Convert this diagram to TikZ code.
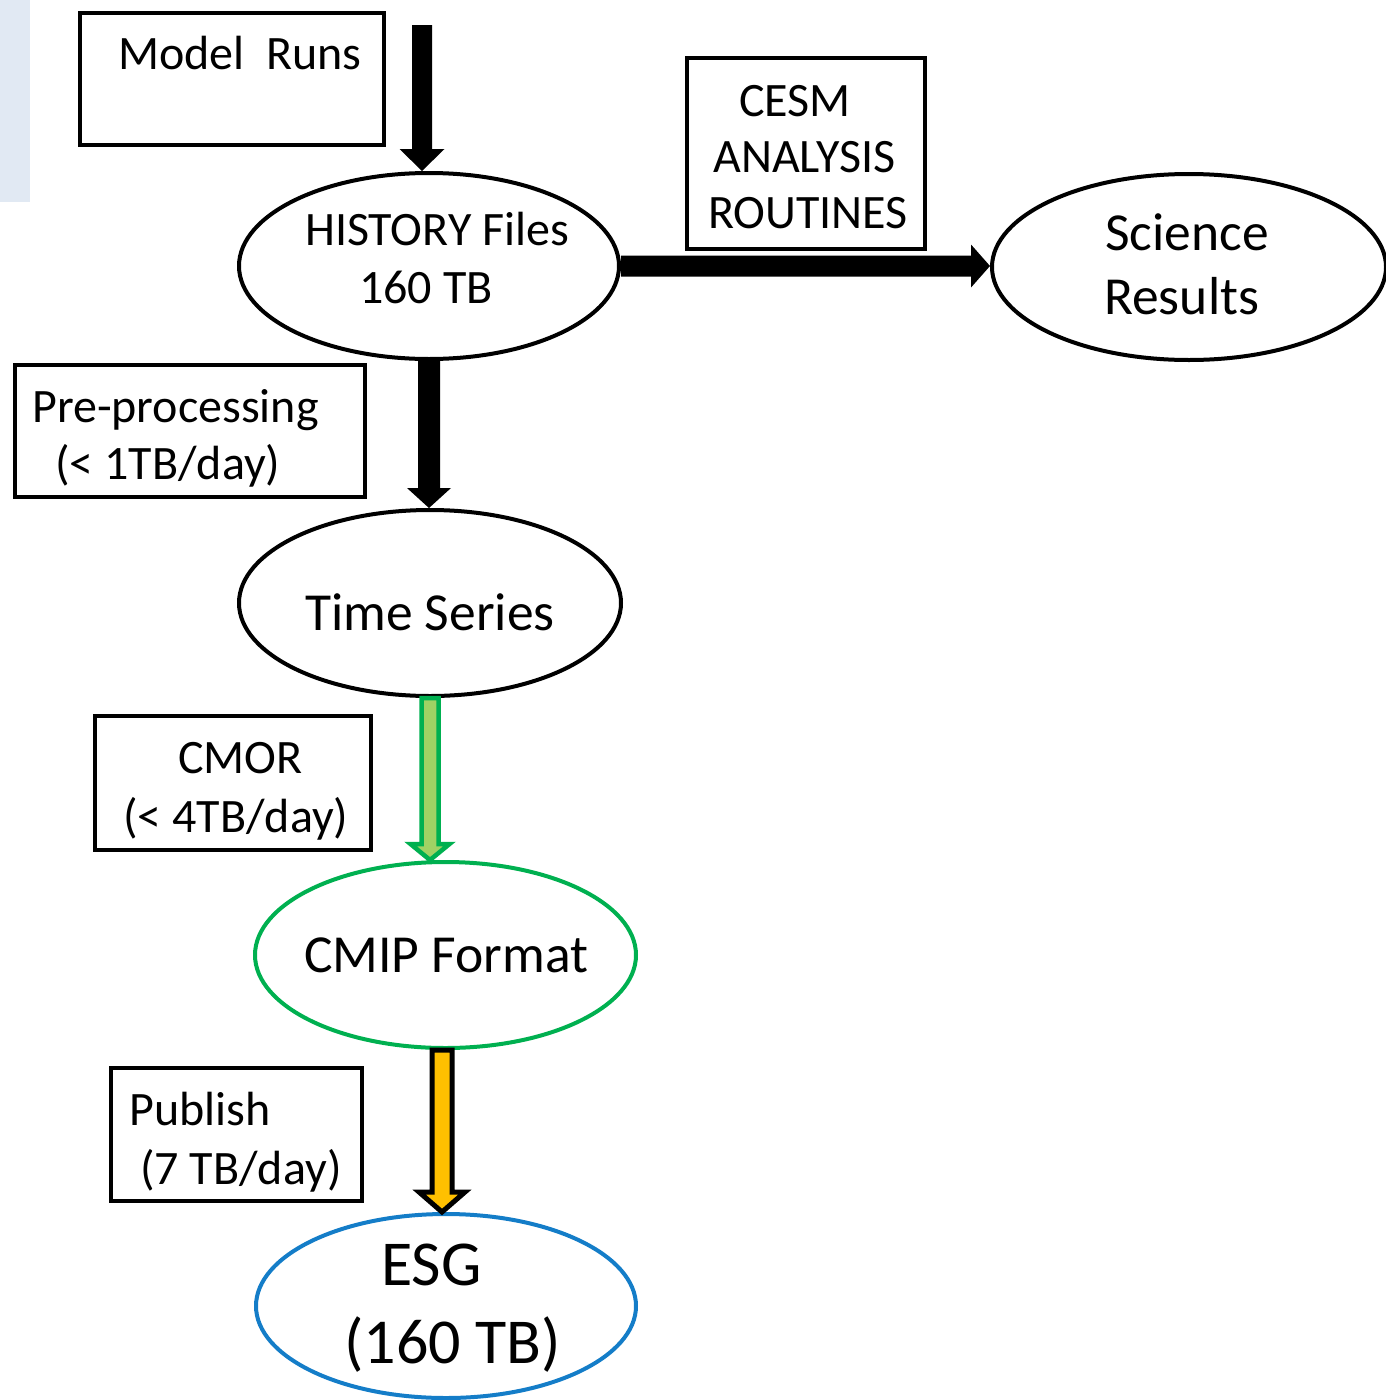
\documentclass[tikz,border=0pt]{standalone}
\usepackage{fontspec}
\setmainfont{Carlito}
\usetikzlibrary{shapes.geometric,calc}

\definecolor{sidebar}{RGB}{225,233,243}
\definecolor{cmipgreen}{RGB}{0,176,80}
\definecolor{lightgreen}{RGB}{160,210,100}
\definecolor{esgblue}{RGB}{20,125,200}
\definecolor{pubyellow}{RGB}{255,192,0}

% vertical block arrow: style, start, end, half shaft, half head, head length
\newcommand\vblockarrow[6]{%
  \path[#1] let \p1=(#2), \p2=(#3) in
    (\x1-#4,\y1) -- (\x1+#4,\y1) -- (\x1+#4,\y2+#6) -- (\x1+#5,\y2+#6)
    -- (\x1,\y2) -- (\x1-#5,\y2+#6) -- (\x1-#4,\y2+#6) -- cycle;}
% horizontal block arrow: style, start, end, half shaft, half head, head length
\newcommand\hblockarrow[6]{%
  \path[#1] let \p1=(#2), \p2=(#3) in
    (\x1,\y1+#4) -- (\x2-#6,\y1+#4) -- (\x2-#6,\y1+#5) -- (\x2,\y1)
    -- (\x2-#6,\y1-#5) -- (\x2-#6,\y1-#4) -- (\x1,\y1-#4) -- cycle;}

\tikzset{
  box/.style={draw=black, line width=4pt, rectangle, inner sep=0pt},
  oval/.style={ellipse, draw=black, line width=4pt, inner sep=0pt},
  txt/.style={inner sep=0pt, anchor=base west, font=\fontsize{48}{58}\selectfont},
  txtbig/.style={txt, font=\fontsize{53.5}{64}\selectfont},
  txthuge/.style={txt, font=\fontsize{64}{77}\selectfont},
}

\begin{document}
\begin{tikzpicture}[x=1pt,y=-1pt]
\useasboundingbox (0,0) rectangle (1386,1400);

% side strip
\fill[sidebar] (0,0) rectangle (30,202);

% boxes
\node[box, minimum width=304pt, minimum height=132pt] (runs) at (232,79) {};
\node[box, minimum width=238pt, minimum height=191pt] (cesm) at (806,153.5) {};
\node[box, minimum width=350pt, minimum height=132pt] (prep) at (190,431) {};
\node[box, minimum width=276pt, minimum height=134pt] (cmor) at (233,783) {};
\node[box, minimum width=251pt, minimum height=133pt] (pub) at (236.5,1134.5) {};

% ellipses
\node[oval, minimum width=380pt, minimum height=186pt] (hist) at (429,266) {};
\node[oval, minimum width=394pt, minimum height=186pt] (sci) at (1189,267) {};
\node[oval, minimum width=382pt, minimum height=186pt] (ts) at (430,603) {};
\node[oval, draw=cmipgreen, minimum width=381pt, minimum height=186pt] (cmip) at (445.5,955) {};
\node[oval, draw=esgblue, minimum width=380pt, minimum height=184pt] (esg) at (446,1306) {};

% texts
\node[txt] (tRuns) at (118,69) {Model~~Runs};
\node[txt] (tCesm1) at (739,116) {CESM};
\node[txt] (tCesm2) at (713,172) {ANALYSIS};
\node[txt] (tCesm3) at (708,228) {ROUTINES};
\node[txt] (tHist1) at (305,245) {HISTORY Files};
\node[txt] (tHist2) at (359,303) {160 TB};
\node[txtbig] (tSci1) at (1105,250) {Science};
\node[txtbig] (tSci2) at (1104,314) {Results};
\node[txt] (tPrep1) at (32,422) {Pre-processing};
\node[txt] (tPrep2) at (55,479) {(< 1TB/day)};
\node[txtbig] (tTs) at (305,630) {Time Series};
\node[txt] (tCmor1) at (178,773) {CMOR};
\node[txt] (tCmor2) at (123,832) {(< 4TB/day)};
\node[txtbig] (tCmip) at (304,972) {CMIP Format};
\node[txt] (tPub1) at (129,1125) {Publish};
\node[txt] (tPub2) at (140,1184) {(7 TB/day)};
\node[txthuge] (tEsg1) at (381,1285) {ESG};
\node[txthuge] (tEsg2) at (344,1363) {(160 TB)};

% connectors
\coordinate (runsOut) at (422,25);
\vblockarrow{fill=black}{runsOut}{hist.north}{10pt}{22.5pt}{22pt}
\vblockarrow{fill=black}{hist.south}{ts.north}{11pt}{22pt}{20pt}
\hblockarrow{fill=black}{hist.east}{sci.west}{10.5pt}{21.5pt}{19pt}
\vblockarrow{draw=cmipgreen, fill=lightgreen, line width=4.5pt}{ts.south}{cmip.north}{8.5pt}{19.5pt}{16pt}
\coordinate (pubTop) at (442,1050);
\vblockarrow{draw=black, fill=pubyellow, line width=5pt}{pubTop}{esg.north}{10pt}{23pt}{20pt}
\end{tikzpicture}
\end{document}
